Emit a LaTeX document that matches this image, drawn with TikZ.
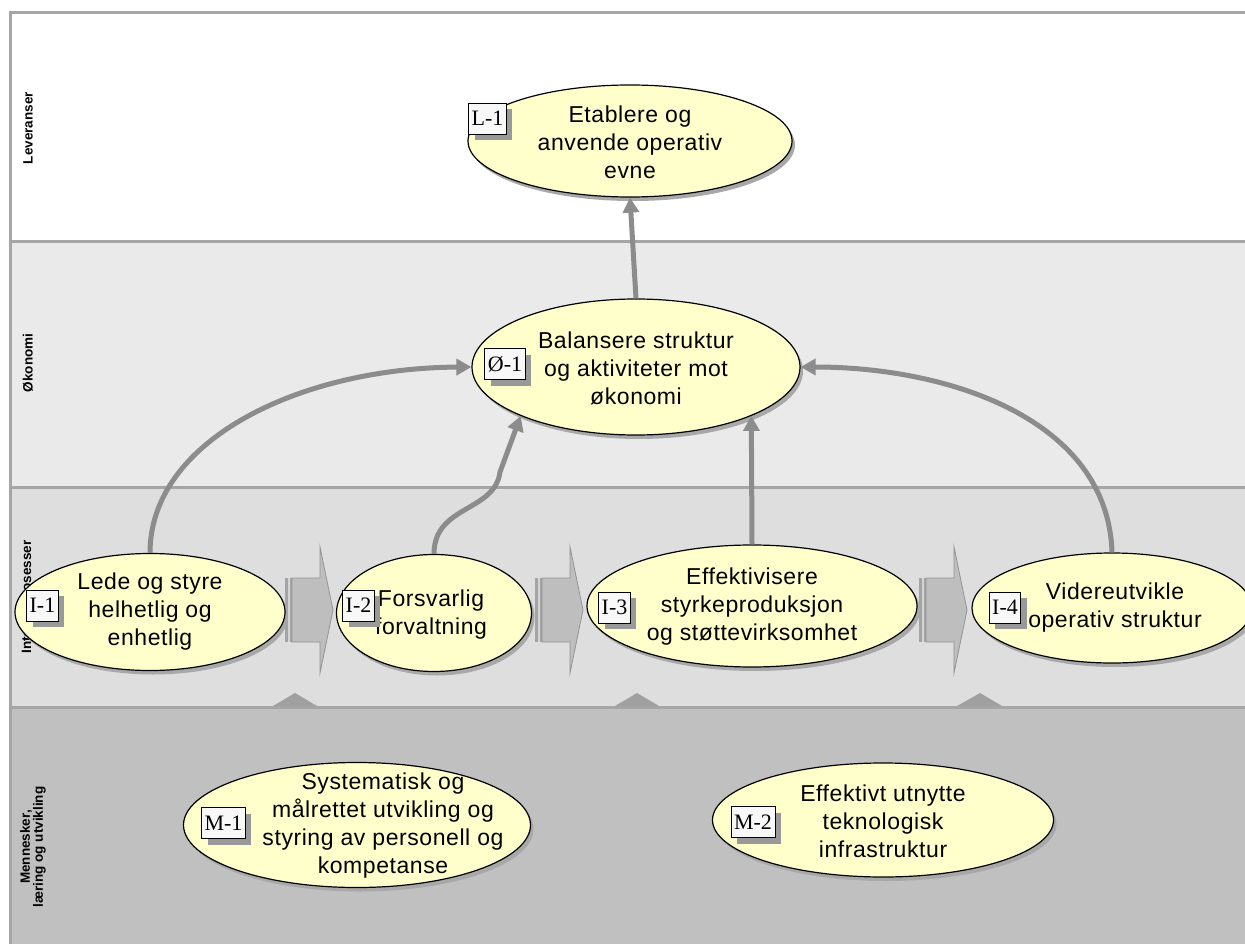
\documentclass[tikz,border=0pt]{standalone}
\usepackage{fontspec}
\setmainfont{Liberation Sans}
\newfontfamily\ellfont{Liberation Sans}[LetterSpace=2.5]
\newfontfamily\tagfont{Liberation Serif}
\usetikzlibrary{shapes.geometric,arrows.meta,shadows}
\definecolor{ellfill}{HTML}{FFFFCC}
\definecolor{bandA}{HTML}{FFFFFF}
\definecolor{bandB}{HTML}{EAEAEA}
\definecolor{bandC}{HTML}{DEDEDE}
\definecolor{bandD}{HTML}{C0C0C0}
\definecolor{sepcol}{HTML}{A6A6A6}
\definecolor{conncol}{HTML}{8C8C8C}
\definecolor{ellshadow}{HTML}{A8A8A8}
\definecolor{tagfill}{HTML}{F8F8F8}
\definecolor{tagshadow}{HTML}{999999}
\definecolor{arrfill}{HTML}{BEBEBE}
\definecolor{arredge}{HTML}{939393}
\definecolor{tailA}{HTML}{A4A4A4}
\definecolor{tailB}{HTML}{D4D4D4}
\definecolor{tricol}{HTML}{A0A0A0}
\begin{document}
\begin{tikzpicture}[x=1pt,y=-1pt,
  ell/.style={ellipse,draw=black,line width=1.2pt,fill=ellfill,inner sep=0pt,
    drop shadow={shadow xshift=3pt,shadow yshift=-4pt,fill=ellshadow,opacity=1}},
  elltext/.style={inner sep=0pt,align=center,font=\ellfont\fontsize{23}{28}\selectfont},
  tag/.style={rectangle,draw=black,line width=0.9pt,fill=tagfill,minimum height=31pt,
    inner xsep=3pt,inner ysep=0pt,font=\tagfont\fontsize{22}{22}\selectfont,
    drop shadow={shadow xshift=6pt,shadow yshift=-6pt,fill=tagshadow,opacity=1}},
  conn/.style={draw=conncol,line width=5pt,-{Triangle[width=16pt,length=15pt]}},
  lbl/.style={rotate=90,inner sep=0pt,align=center,font=\bfseries\fontsize{13.5}{13}\selectfont},
  sep/.style={draw=sepcol,line width=3pt},
  blockarr/.pic={
    \fill[tailA] (0,-32) rectangle (3,32);
    \fill[tailB] (3,-32) rectangle (4.5,32);
    \fill[tailA] (4.5,-32) rectangle (7,32);
    \filldraw[fill=arrfill,draw=arredge,line width=0.8pt]
      (7,-32) -- (35,-32) -- (35,-63) -- (48,0) -- (35,63) -- (35,32) -- (7,32) -- cycle;
  },
]
\useasboundingbox (0,0) rectangle (1245,944);
% bands
\fill[white] (0,0) rectangle (1245,944);
\fill[bandA] (10,13) rectangle (1245,242);
\fill[bandB] (10,242) rectangle (1245,487);
\fill[bandC] (10,487) rectangle (1245,707);
\fill[bandD] (10,707) rectangle (1245,944);
\draw[sep] (10,242) -- (1245,242);
\draw[sep] (10,487) -- (1245,487);
\draw[sep] (10,707) -- (1245,707);
\draw[sep] (10,944) -- (10,13) -- (1245,13);
% band labels
\node[lbl] (lv) at (28,128) {Leveranser};
\node[lbl] (ok) at (28,363) {Økonomi};
\node[lbl] (ip) at (28,597) {Interne prosesser};
\node[lbl] (ml) at (33,847) {Mennesker,\\læring og utvikling};
% small triangles
\fill[tricol] (273,706) -- (295,693) -- (317,706) -- cycle;
\fill[tricol] (615,706) -- (637,693) -- (659,706) -- cycle;
\fill[tricol] (957,706) -- (980,693) -- (1002,706) -- cycle;
% block arrows
\pic at (285,610) {blockarr};
\pic at (535,610) {blockarr};
\pic at (919,610) {blockarr};
% ellipses
\node[ell,minimum width=324pt,minimum height=112pt] (l1) at (630,141) {};
\node[ell,minimum width=328pt,minimum height=136pt] (o1) at (636,367) {};
\node[ell,minimum width=270pt,minimum height=117pt] (i1) at (150,612) {};
\node[ell,minimum width=195pt,minimum height=117pt] (i2) at (434,613) {};
\node[ell,minimum width=330pt,minimum height=122pt] (i3) at (752,606) {};
\node[ell,minimum width=280pt,minimum height=110pt] (i4) at (1112,608) {};
\node[ell,minimum width=347pt,minimum height=125pt] (m1) at (357,825) {};
\node[ell,minimum width=341pt,minimum height=114pt] (m2) at (883,820) {};
% connectors
\draw[conn] (o1.north) -- (l1.south);
\draw[conn] (i1.north) .. controls (150,440) and (300,368) .. (o1.west);
\draw[conn] (i2.north) .. controls (434,505) and (495,512) .. (500,472) -- (o1.-157);
\draw[conn] (i3.north) -- (o1.-23);
\draw[conn] (i4.north) .. controls (1108,420) and (950,367) .. (o1.east);
% texts
\node[elltext] (l1t) at (630,142) {Etablere og\\anvende operativ\\evne};
\node[elltext] (o1t) at (636,368) {Balansere struktur\\og aktiviteter mot\\økonomi};
\node[elltext] (i1t) at (150,612) {Lede og styre\\helhetlig og\\enhetlig};
\node[elltext] (i2t) at (431,615) {Forsvarlig\\forvaltning};
\node[elltext] (i3t) at (752,607) {Effektivisere\\styrkeproduksjon\\og støttevirksomhet};
\node[elltext] (i4t) at (1115,608) {Videreutvikle\\operativ struktur};
\node[elltext] (m1t) at (383,826) {Systematisk og\\målrettet utvikling og\\styring av personell og\\kompetanse};
\node[elltext] (m2t) at (883,821) {Effektivt utnytte\\teknologisk\\infrastruktur};
% tags
\node[tag] (l1tag) at (487.5,118.5) {L-1};
\node[tag] (o1tag) at (505,364) {Ø-1};
\node[tag] (i1tag) at (42.5,605.5) {I-1};
\node[tag] (i2tag) at (358.5,605.5) {I-2};
\node[tag] (i3tag) at (614.5,607.5) {I-3};
\node[tag] (i4tag) at (1005,607.5) {I-4};
\node[tag] (m1tag) at (223.5,823) {M-1};
\node[tag] (m2tag) at (753,822) {M-2};
\end{tikzpicture}
\end{document}
